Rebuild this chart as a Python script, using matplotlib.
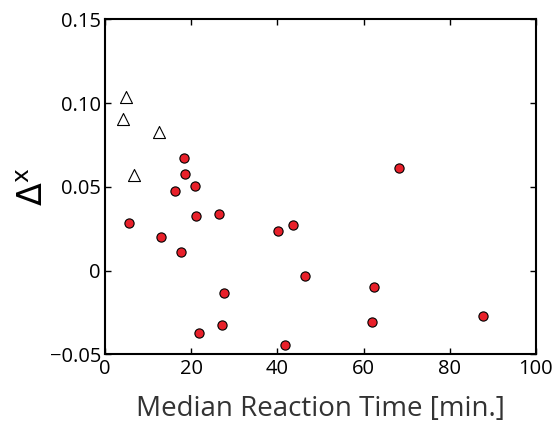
import matplotlib
matplotlib.use("Agg")
import matplotlib.pyplot as plt

plt.rcParams['font.family'] = ['Open Sans', 'DejaVu Sans']

tri_x = [4.9, 4.1, 12.4, 6.7]
tri_y = [0.104, 0.0905, 0.083, 0.057]

circ_x = [18.2, 18.5, 20.9, 16.2, 21.1, 26.4, 5.65, 13.0, 17.7, 40.1, 43.5, 68.2,
          46.5, 27.7, 62.5, 27.1, 21.9, 61.9, 87.8, 41.8]
circ_y = [0.067, 0.0578, 0.0506, 0.0476, 0.0326, 0.0336, 0.0282, 0.020, 0.0113, 0.0236,
          0.0272, 0.0613, -0.0029, -0.0133, -0.010, -0.0323, -0.0373, -0.0309, -0.027, -0.0444]

xticks = [0, 20, 40, 60, 80, 100]
yticks = [-0.05, 0, 0.05, 0.10, 0.15]
ytick_labels = ['\u22120.05', '0', '0.05', '0.10', '0.15']

fig = plt.figure(figsize=(5.56, 4.23), dpi=100)
ax = fig.add_axes([0.189, 0.162, 0.775, 0.792])

ax.scatter(tri_x, tri_y, marker='^', s=75, facecolors='white', edgecolors='black',
           linewidths=0.8, zorder=3)
ax.scatter(circ_x, circ_y, marker='o', s=44, facecolors='#e8202a', edgecolors='black',
           linewidths=0.8, zorder=3)

ax.set_xlim(0, 100)
ax.set_ylim(-0.05, 0.15)
ax.set_xticks(xticks)
ax.set_yticks(yticks)
ax.set_yticklabels(ytick_labels)
ax.tick_params(direction='in', top=True, right=True, length=4, width=1,
               labelsize=14.5, pad=3)
for sp in ax.spines.values():
    sp.set_linewidth(1.5)

ax.set_xlabel('Median Reaction Time [min.]', fontsize=20, color='#333333', labelpad=12)
ax.set_ylabel('$\\Delta^{\\mathrm{x}}$', fontsize=24, labelpad=-1)

fig.savefig('out.png', dpi=100)
